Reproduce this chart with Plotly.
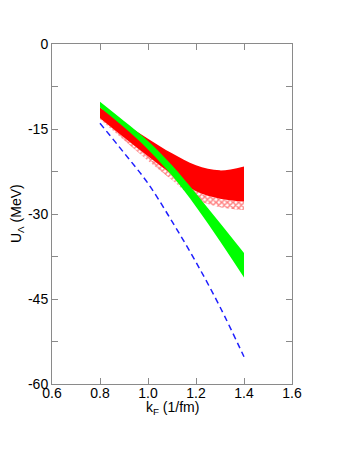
import plotly.graph_objects as go

# Data
kf = [0.8, 0.9, 1.0, 1.1, 1.2, 1.3, 1.4]
blue_u = [-14.0, -19.2, -24.6, -31.3, -38.5, -46.4, -55.2]
green_top = [-10.2, -13.6, -17.1, -21.4, -26.4, -31.6, -36.9]
green_bot = [-11.2, -14.7, -18.6, -23.2, -28.7, -34.8, -41.2]
red_top = [-11.2, -14.0, -16.7, -19.3, -21.4, -22.3, -21.6]
red_bot = [-13.1, -16.5, -19.8, -23.0, -26.0, -27.3, -27.8]
hatch_bot = [-13.3, -17.0, -20.6, -24.0, -27.4, -28.8, -29.3]

x_ticks = [0.6, 0.8, 1.0, 1.2, 1.4, 1.6]
x_ticktext = ["0.6", "0.8", "1.0", "1.2", "1.4", "1.6"]
y_ticks = [0, -15, -30, -45, -60]
y_ticktext = ["0", "-15", "-30", "-45", "-60"]

FONT = "Liberation Sans, Arial, Helvetica, sans-serif"
AXC = "#8a8a8a"

fig = go.Figure()

def band(lower, upper, **fillkw):
    fig.add_trace(go.Scatter(x=kf, y=lower, mode="lines",
                             line=dict(width=0, shape="spline", smoothing=1.0),
                             showlegend=False, hoverinfo="skip"))
    fig.add_trace(go.Scatter(x=kf, y=upper, mode="lines", fill="tonexty",
                             line=dict(width=0, shape="spline", smoothing=1.0),
                             showlegend=False, hoverinfo="skip", **fillkw))

# hatched red band
band(hatch_bot, red_bot, fillcolor="rgba(255,255,255,0)",
     fillpattern=dict(shape="x", fgcolor="#ff0000", bgcolor="#ffffff",
                      size=4, solidity=0.6))
# solid red band
band(red_bot, red_top, fillcolor="#ff0000")
# green band
band(green_bot, green_top, fillcolor="#00ff00")

# blue dashed line
fig.add_trace(go.Scatter(x=kf, y=blue_u, mode="lines",
                         line=dict(color="#1f1fff", width=1.5, dash="6px,4px",
                                   shape="spline", smoothing=1.0),
                         showlegend=False))

axis_common = dict(showgrid=False, zeroline=False, showline=True, linecolor=AXC,
                   linewidth=1, mirror="allticks", ticks="inside", ticklen=6,
                   tickcolor=AXC, tickwidth=1, automargin=False,
                   tickfont=dict(family=FONT, size=14, color="#000000"))

fig.update_xaxes(range=[0.6, 1.6], tickmode="array", tickvals=x_ticks,
                 ticktext=x_ticktext, ticklabelstandoff=-4, **axis_common)
fig.update_yaxes(range=[-60, 0], tickmode="array", tickvals=y_ticks,
                 ticktext=y_ticktext,
                 minor=dict(tickvals=[-7.5, -22.5, -37.5, -52.5], ticks="inside",
                            ticklen=6, tickcolor=AXC, tickwidth=1),
                 **axis_common)

# page body has an 8px margin, so the figure is sized 8px smaller
fig.update_layout(
    width=346, height=450,
    margin=dict(l=44, r=62, t=36, b=74),
    paper_bgcolor="#ffffff", plot_bgcolor="#ffffff",
    font=dict(family=FONT, size=14, color="#000000"),
    annotations=[
        dict(text="k<sub>F</sub> (1/fm)", xref="paper", yref="paper",
             x=0.5, y=0, yshift=-24, xanchor="center", yanchor="middle",
             showarrow=False, font=dict(family=FONT, size=14)),
        dict(text="U<sub>\u039b</sub> (MeV)", xref="paper", yref="paper",
             x=0, y=0.5, xshift=-35, xanchor="center", yanchor="middle",
             textangle=-90, showarrow=False, font=dict(family=FONT, size=14)),
    ],
)

fig.write_html("out.html")
